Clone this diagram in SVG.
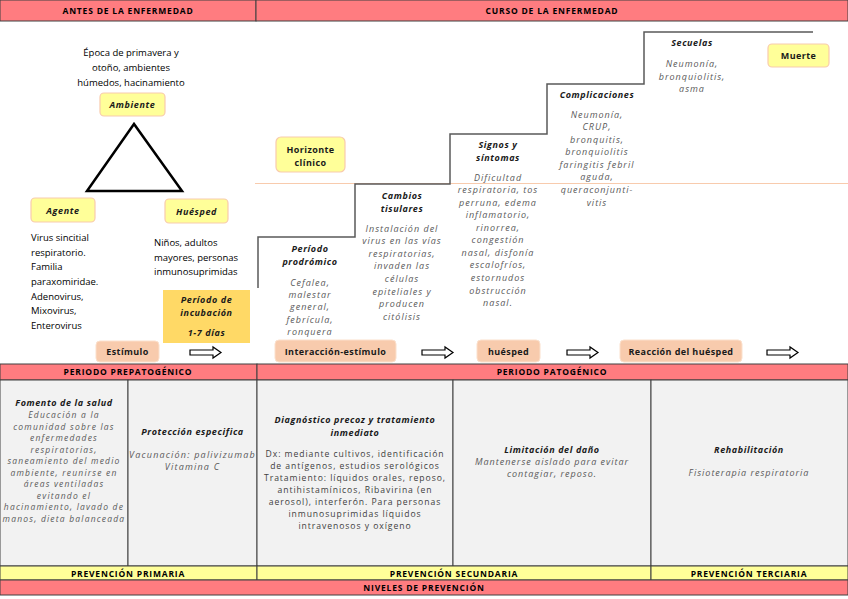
<svg xmlns="http://www.w3.org/2000/svg" width="848" height="599" viewBox="0 0 848 599">
<style>
text{font-family:"Open Sans","DejaVu Sans",sans-serif;fill:#000}
.hd{font-size:8.5px;font-weight:bold;text-anchor:middle;letter-spacing:0.8px}
.t{font-size:9.5px}
.c{text-anchor:middle}
.bi{font-size:9px;font-weight:bold;font-style:italic;text-anchor:middle;fill:#1a1a1a;letter-spacing:0.6px}
.gi{font-size:9px;font-style:italic;text-anchor:middle;fill:#595959;letter-spacing:1px}
.gs{font-size:8.5px;letter-spacing:1.2px}
.gr{font-size:8.6px;text-anchor:middle;fill:#404040;letter-spacing:0.95px}
.lb{font-size:9px;font-weight:bold;text-anchor:middle;fill:#1a1a1a;letter-spacing:0.4px}
.red{fill:#ff7c80;stroke:#404040;stroke-width:1}
.yel{fill:#ffff99;stroke:#404040;stroke-width:1}
.cell{fill:#f2f2f2;stroke:#404040;stroke-width:1}
.ybox{fill:#ffff99;stroke:#f8cbad;stroke-width:1.2}
.pbox{fill:#f8cbad;stroke:#fbe0cc;stroke-width:1}
.arr{fill:#fff;stroke:#000;stroke-width:1.2}
.stair{fill:none;stroke:#595959;stroke-width:1.5}
</style>
<defs>
<path id="arrow" d="M0,3 H23 V0 L31,5.5 L23,11 V8 H0 Z"/>
</defs>
<rect width="848" height="599" fill="#fff"/>
<!-- top headers -->
<g id="header-antes"><rect class="red" x="0" y="0" width="256" height="21"/><text class="hd" x="128" y="13.5">ANTES DE LA ENFERMEDAD</text></g>
<g id="header-curso"><rect class="red" x="256" y="0" width="592" height="21"/><text class="hd" x="552" y="13.5">CURSO DE LA ENFERMEDAD</text></g>

<!-- connectors / lines -->
<g id="connectors">
<polygon points="134,124 87,191 182,191" fill="none" stroke="#000" stroke-width="2.5"/>
<line x1="255" y1="183.5" x2="848" y2="183.5" stroke="#f8cbad" stroke-width="1"/>
<polyline class="stair" points="258,288 258,237 355,237 355,184 450,184 450,134 547,134 547,84 644,84 644,32 813,32"/>
<use href="#arrow" class="arr" x="190" y="347"/>
<use href="#arrow" class="arr" x="422" y="347"/>
<use href="#arrow" class="arr" x="567" y="347"/>
<use href="#arrow" class="arr" x="767" y="347"/>
</g>

<!-- triad -->
<g id="ambiente-text">
<text class="t c" x="131" y="56">Época de primavera y</text>
<text class="t c" x="131" y="71">otoño, ambientes</text>
<text class="t c" x="131" y="86">húmedos, hacinamiento</text>
</g>
<g id="ambiente"><rect class="ybox" x="100" y="93" width="65" height="23" rx="4"/><text class="bi" x="132.5" y="108">Ambiente</text></g>
<g id="agente"><rect class="ybox" x="31" y="198" width="64" height="24" rx="4"/><text class="bi" x="63" y="213.5">Agente</text></g>
<g id="huesped"><rect class="ybox" x="165" y="199" width="63" height="24" rx="4"/><text class="bi" x="196.5" y="214.5">Huésped</text></g>
<g id="agente-text">
<text class="t" x="31" y="241">Virus sincitial</text>
<text class="t" x="31" y="256">respiratorio.</text>
<text class="t" x="31" y="270">Familia</text>
<text class="t" x="31" y="285">paraxomiridae.</text>
<text class="t" x="31" y="300">Adenovirus,</text>
<text class="t" x="31" y="314">Mixovirus,</text>
<text class="t" x="31" y="329">Enterovirus</text>
</g>
<g id="huesped-text">
<text class="t" x="154" y="246">Niños, adultos</text>
<text class="t" x="154" y="261">mayores, personas</text>
<text class="t" x="154" y="275">inmunosuprimidas</text>
</g>
<g id="incubacion"><rect x="163" y="290" width="87" height="53" fill="#ffd966"/>
<text class="bi" x="206.5" y="303">Período de</text>
<text class="bi" x="206.5" y="316">incubación</text>
<text class="bi" x="206.5" y="336">1-7 días</text></g>
<g id="estimulo"><rect class="pbox" x="96" y="341" width="63" height="21" rx="4"/><text class="lb" x="127.5" y="355">Estímulo</text></g>

<!-- course -->
<g id="horizonte"><rect class="ybox" x="276" y="137" width="69" height="35" rx="5"/>
<text class="lb" x="310.5" y="153">Horizonte</text><text class="lb" x="310.5" y="166">clínico</text></g>
<g id="prodromico">
<text class="bi" x="310" y="252">Período</text><text class="bi" x="310" y="264.5">prodrómico</text>
<text class="gi" x="310" y="286">Cefalea,</text>
<text class="gi" x="310" y="298">malestar</text>
<text class="gi" x="310" y="310">general,</text>
<text class="gi" x="310" y="323">febrícula,</text>
<text class="gi" x="310" y="335">ronquera</text>
</g>
<g id="tisulares">
<text class="bi" x="402" y="199">Cambios</text><text class="bi" x="402" y="212">tisulares</text>
<text class="gi" x="402" y="232">Instalación del</text>
<text class="gi" x="402" y="244">virus en las vías</text>
<text class="gi" x="402" y="257">respiratorias,</text>
<text class="gi" x="402" y="269">invaden las</text>
<text class="gi" x="402" y="282">células</text>
<text class="gi" x="402" y="295">epiteliales y</text>
<text class="gi" x="402" y="307">producen</text>
<text class="gi" x="402" y="320">citólisis</text>
</g>
<g id="signos">
<text class="bi" x="498" y="148">Signos y</text><text class="bi" x="498" y="160.5">síntomas</text>
<text class="gi" x="498" y="181">Dificultad</text>
<text class="gi" x="498" y="193">respiratoria, tos</text>
<text class="gi" x="498" y="206">perruna, edema</text>
<text class="gi" x="498" y="218">inflamatorio,</text>
<text class="gi" x="498" y="231">rinorrea,</text>
<text class="gi" x="498" y="243">congestión</text>
<text class="gi" x="498" y="256">nasal, disfonía</text>
<text class="gi" x="498" y="268">escalofríos,</text>
<text class="gi" x="498" y="281">estornudos</text>
<text class="gi" x="498" y="294">obstrucción</text>
<text class="gi" x="498" y="306">nasal.</text>
</g>
<g id="complicaciones">
<text class="bi" x="597" y="98">Complicaciones</text>
<text class="gi" x="597" y="118">Neumonía,</text>
<text class="gi" x="597" y="130">CRUP,</text>
<text class="gi" x="597" y="143">bronquitis,</text>
<text class="gi" x="597" y="155">bronquiolitis</text>
<text class="gi" x="597" y="168">faringitis febril</text>
<text class="gi" x="597" y="180">aguda,</text>
<text class="gi" x="597" y="193">queraconjunti-</text>
<text class="gi" x="597" y="206">vitis</text>
</g>
<g id="secuelas">
<text class="bi" x="692" y="46">Secuelas</text>
<text class="gi" x="692" y="67">Neumonía,</text>
<text class="gi" x="692" y="80">bronquiolitis,</text>
<text class="gi" x="692" y="92">asma</text>
</g>
<g id="muerte"><rect class="ybox" x="768" y="44" width="61" height="23" rx="4"/><text class="lb" x="798.5" y="59">Muerte</text></g>
<g id="interaccion"><rect class="pbox" x="275" y="340" width="121" height="22" rx="4"/><text class="lb" x="335.5" y="354.5">Interacción-estímulo</text></g>
<g id="huesped2"><rect class="pbox" x="477" y="340" width="63" height="22" rx="4"/><text class="lb" x="508.5" y="354.5">huésped</text></g>
<g id="reaccion"><rect class="pbox" x="620" y="340" width="122" height="22" rx="4"/><text class="lb" x="681" y="354.5">Reacción del huésped</text></g>

<!-- bottom table -->
<g id="periodo-prepatogenico"><rect class="red" x="0" y="364" width="257" height="16"/><text class="hd" x="128" y="375">PERIODO PREPATOGÉNICO</text></g>
<g id="periodo-patogenico"><rect class="red" x="257" y="364" width="591" height="16"/><text class="hd" x="552" y="375">PERIODO PATOGÉNICO</text></g>
<g id="fomento"><rect class="cell" x="0" y="380" width="128" height="186"/>
<text class="bi" x="64" y="406">Fomento de la salud</text>
<text class="gi gs" x="64" y="418">Educación a la</text>
<text class="gi gs" x="64" y="429.5">comunidad sobre las</text>
<text class="gi gs" x="64" y="441">enfermedades</text>
<text class="gi gs" x="64" y="452.5">respiratorias,</text>
<text class="gi gs" x="64" y="464">saneamiento del medio</text>
<text class="gi gs" x="64" y="475.5">ambiente, reunirse en</text>
<text class="gi gs" x="64" y="487">áreas ventiladas</text>
<text class="gi gs" x="64" y="498.5">evitando el</text>
<text class="gi gs" x="64" y="510">hacinamiento, lavado de</text>
<text class="gi gs" x="64" y="521.5">manos, dieta balanceada</text>
</g>
<g id="proteccion"><rect class="cell" x="128" y="380" width="129" height="186"/>
<text class="bi" x="192.5" y="435">Protección especifica</text>
<text class="gi" x="192.5" y="458" style="letter-spacing:1.2px">Vacunación: palivizumab</text>
<text class="gi" x="192.5" y="470" style="letter-spacing:1.2px">Vitamina C</text>
</g>
<g id="diagnostico"><rect class="cell" x="257" y="380" width="196" height="186"/>
<text class="bi" x="355" y="423">Diagnóstico precoz y tratamiento</text>
<text class="bi" x="355" y="435.5">inmediato</text>
<text class="gr" x="355" y="457">Dx: mediante cultivos, identificación</text>
<text class="gr" x="355" y="469">de antígenos, estudios serológicos</text>
<text class="gr" x="355" y="481">Tratamiento: líquidos orales, reposo,</text>
<text class="gr" x="355" y="493">antihistamínicos, Ribavirina (en</text>
<text class="gr" x="355" y="505">aerosol), interferón. Para personas</text>
<text class="gr" x="355" y="517">inmunosuprimidas líquidos</text>
<text class="gr" x="355" y="529">intravenosos y oxígeno</text>
</g>
<g id="limitacion"><rect class="cell" x="453" y="380" width="198" height="186"/>
<text class="bi" x="552" y="453">Limitación del daño</text>
<text class="gi" x="552" y="465">Mantenerse aislado para evitar</text>
<text class="gi" x="552" y="477">contagiar, reposo.</text>
</g>
<g id="rehabilitacion"><rect class="cell" x="651" y="380" width="197" height="186"/>
<text class="bi" x="749" y="453">Rehabilitación</text>
<text class="gi" x="749" y="476">Fisioterapia respiratoria</text>
</g>
<g id="prevencion-primaria"><rect class="yel" x="0" y="566" width="257" height="14"/><text class="hd" x="128" y="576.5">PREVENCIÓN PRIMARIA</text></g>
<g id="prevencion-secundaria"><rect class="yel" x="257" y="566" width="394" height="14"/><text class="hd" x="454" y="576.5">PREVENCIÓN SECUNDARIA</text></g>
<g id="prevencion-terciaria"><rect class="yel" x="651" y="566" width="197" height="14"/><text class="hd" x="749" y="576.5">PREVENCIÓN TERCIARIA</text></g>
<g id="niveles"><rect class="red" x="0" y="580" width="848" height="15"/><text class="hd" x="424" y="590.5">NIVELES DE PREVENCIÓN</text></g>
</svg>
